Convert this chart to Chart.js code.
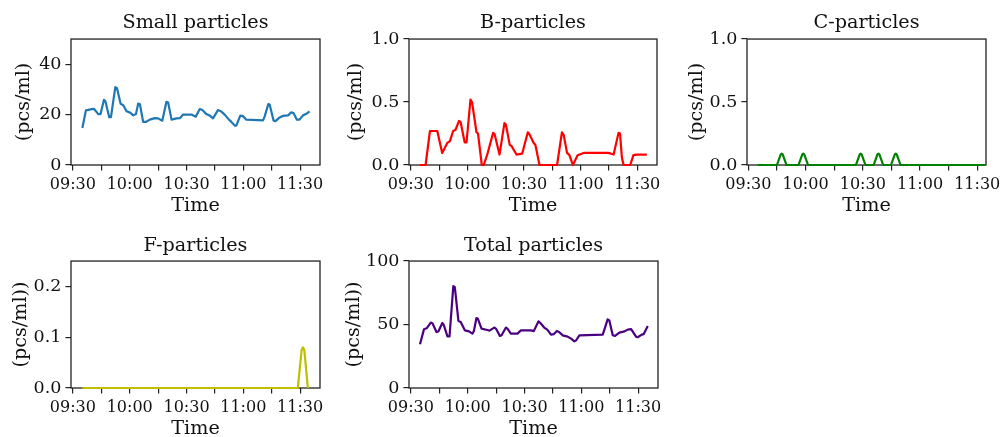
<!DOCTYPE html>
<html>
<head>
<meta charset="utf-8">
<script src="https://cdn.jsdelivr.net/npm/chart.js@4.4.1/dist/chart.umd.min.js"></script>
<style>
  html, body { margin: 0; padding: 0; background: #fff; width: 1001px; height: 437px; overflow: hidden; position: relative; }
  canvas { position: absolute; }
</style>
</head>
<body>
<canvas id="small"></canvas>
<canvas id="bpart"></canvas>
<canvas id="cpart"></canvas>
<canvas id="fpart"></canvas>
<canvas id="total"></canvas>
<script>
// time = minutes after 09:00
const tickLabels = ['09:30', '10:00', '10:30', '11:00', '11:30'];

const smallMin = [35.0, 36.9, 39.9, 41.1, 43.4, 44.6, 46.4, 47.2, 49.2, 50.1, 52.4, 53.3, 55.2, 56.6, 58.4, 60.2,
  61.9, 63.3, 64.5, 65.4, 67.1, 68.5, 70.6, 73.3, 75.0, 77.2, 79.4, 80.3, 82.1, 84.7, 86.5, 88.2, 92.6, 94.9,
  97.0, 98.4, 100.5, 102.3, 104.0, 106.6, 108.4, 110.2, 112.4, 113.6, 115.6, 116.3, 118.4, 119.8, 121.6, 130.4,
  131.3, 133.2, 133.9, 136.0, 137.0, 139.2, 141.0, 143.6, 145.3, 146.5, 148.3, 149.7, 151.5, 153.3, 155.0];
const smallVal = [14.7, 21.7, 22.2, 22.3, 20.2, 20.2, 25.9, 25.2, 19.0, 19.0, 30.9, 30.5, 24.3, 23.7, 21.3, 20.8,
  19.7, 20.2, 24.4, 24.1, 17.1, 17.1, 18.0, 18.6, 18.5, 17.6, 25.1, 24.8, 18.0, 18.5, 18.6, 20.0, 20.0, 19.2,
  22.2, 21.8, 20.2, 19.6, 18.5, 21.8, 21.2, 20.0, 18.0, 17.2, 15.6, 15.6, 19.6, 19.4, 18.0, 17.7,
  19.3, 24.2, 24.0, 17.6, 17.4, 18.9, 19.5, 19.7, 20.9, 20.6, 18.0, 18.0, 19.7, 20.3, 21.3];

const bMin = [34.8, 37.8, 40.1, 44.0, 46.6, 49.3, 50.7, 52.4, 53.7, 55.5, 56.4, 58.5, 59.5, 61.6, 62.4, 64.8, 65.6,
  67.6, 68.6, 70.4, 73.6, 74.4, 77.0, 79.6, 80.4, 82.4, 83.4, 86.0, 89.0, 92.0, 93.0, 95.1, 96.0, 98.2, 107.5,
  110.1, 111.0, 112.8, 114.0, 115.9, 118.4, 121.6, 134.8, 137.5, 140.1, 140.9, 141.9, 142.8, 146.3, 148.0, 149.8, 155.1];
const bVal = [0, 0, 0.27, 0.27, 0.096, 0.175, 0.19, 0.27, 0.28, 0.35, 0.34, 0.18, 0.18, 0.52, 0.50, 0.26, 0.25,
  0, 0, 0.078, 0.255, 0.245, 0.083, 0.333, 0.32, 0.16, 0.15, 0.083, 0.09, 0.26, 0.24, 0.175, 0.16, 0, 0,
  0.26, 0.24, 0.096, 0.08, 0, 0.078, 0.096, 0.096, 0.083, 0.255, 0.25, 0.057, 0, 0, 0.078, 0.083, 0.083];

const cMin = [34.9, 45.0, 47.0, 47.5, 48.0, 50.0, 56.3, 58.3, 58.8, 59.3, 61.3, 86.4, 88.4, 88.9, 89.4, 91.4,
  95.7, 97.7, 98.2, 98.7, 100.7, 104.8, 106.8, 107.3, 107.8, 109.8, 154.0];
const cVal = [0, 0, 0.085, 0.09, 0.085, 0, 0, 0.085, 0.09, 0.085, 0, 0, 0.085, 0.09, 0.085, 0,
  0, 0.085, 0.09, 0.085, 0, 0, 0.085, 0.09, 0.085, 0, 0];

const fMin = [35.0, 148.8, 150.8, 151.5, 152.2, 154.1];
const fVal = [0, 0, 0.075, 0.08, 0.075, 0];

const totalMin = [34.8, 36.9, 38.3, 40.5, 41.4, 43.5, 44.5, 46.6, 47.4, 49.3, 50.4, 52.4, 53.2, 55.1, 56.3, 58.5,
  60.7, 62.5, 63.3, 64.6, 65.4, 67.3, 70.4, 71.5, 74.0, 74.9, 77.0, 77.9, 80.2, 81.0, 82.8, 86.3, 88.1, 93.4,
  94.9, 97.4, 98.5, 100.4, 102.0, 104.0, 105.4, 107.1, 108.3, 110.1, 112.8, 114.6, 116.3, 117.2, 119.0, 131.3,
  132.4, 133.9, 134.8, 136.6, 137.8, 140.1, 142.8, 144.5, 146.3, 149.0, 149.8, 151.9, 152.9, 155.1];
const totalVal = [34.4, 46.2, 47.0, 51.5, 51.0, 44.1, 44.5, 51.2, 49.5, 40.7, 40.7, 80.3, 79.5, 52.8, 52.0, 45.4,
  44.6, 42.8, 45.0, 55.1, 54.5, 46.8, 45.7, 45.2, 47.6, 46.8, 41.0, 41.6, 47.6, 46.8, 42.8, 42.8, 45.4, 45.4,
  44.8, 52.5, 51.0, 47.6, 46.0, 42.0, 42.4, 44.9, 44.0, 41.5, 40.5, 38.9, 36.8, 37.4, 41.5, 42.0,
  47.0, 54.1, 53.2, 41.5, 41.0, 43.6, 44.6, 46.0, 46.4, 40.2, 40.0, 42.0, 42.4, 48.8];

const FONT = "'DejaVu Serif', serif";

// full axes box like matplotlib spines
const frame = {
  id: 'frame',
  beforeDatasetsDraw(chart) {
    const { ctx, chartArea: a } = chart;
    ctx.save();
    ctx.strokeStyle = '#222';
    ctx.lineWidth = 1.3;
    ctx.strokeRect(a.left, a.top, a.right - a.left, a.bottom - a.top);
    ctx.restore();
  }
};

function toPoints(xs, ys) {
  return xs.map((x, i) => ({ x: x, y: ys[i] }));
}

function fmtTime(v) {
  const i = tickLabels.findIndex(t => {
    const p = t.split(':');
    return (+p[0] - 9) * 60 + (+p[1]) === v;
  });
  return i >= 0 ? tickLabels[i] : '';
}

function panel(id, o) {
  const el = document.getElementById(id);
  const yW = 70, xH = 55, padR = 30;
  const left = o.l - yW;
  el.width = o.r - left + padR;
  el.height = 209;
  el.style.left = left + 'px';
  el.style.top = o.top + 'px';

  new Chart(el, {
    type: 'line',
    data: {
      datasets: [{
        data: toPoints(o.xs, o.ys),
        borderColor: o.color,
        borderWidth: 2.2,
        pointRadius: 0,
        tension: 0,
        fill: false,
        clip: 3,
        borderJoinStyle: 'round'
      }]
    },
    plugins: [frame],
    options: {
      responsive: false,
      animation: false,
      events: [],
      layout: { padding: { left: 0, top: 0, right: padR, bottom: 0 } },
      plugins: {
        legend: { display: false },
        tooltip: { enabled: false },
        title: {
          display: true,
          text: o.title,
          fullSize: false,
          color: '#111',
          font: { family: FONT, size: 19.2, weight: 'normal', lineHeight: 1.2 },
          padding: { top: 0, bottom: o.titlePad }
        }
      },
      scales: {
        x: {
          type: 'linear',
          min: o.xmin,
          max: o.xmax,
          afterFit(s) { s.height = xH; s.paddingLeft = 0; s.paddingRight = 0; },
          border: { display: false },
          grid: { drawOnChartArea: false, drawTicks: true, tickLength: 5.6, color: '#222', lineWidth: 1.2 },
          ticks: {
            stepSize: 15,
            includeBounds: false,
            autoSkip: false,
            maxRotation: 0,
            minRotation: 0,
            padding: 4.5,
            color: '#111',
            font: { family: FONT, size: 16 },
            callback: v => fmtTime(v)
          },
          title: {
            display: true,
            text: 'Time',
            color: '#111',
            font: { family: FONT, size: 19.2, lineHeight: 1.2 },
            padding: { top: 0, bottom: 2 }
          }
        },
        y: {
          min: o.ymin,
          max: o.ymax,
          afterFit(s) { s.width = yW; s.paddingTop = 0; s.paddingBottom = 0; },
          border: { display: false },
          grid: { drawOnChartArea: false, drawTicks: true, tickLength: 5.6, color: '#222', lineWidth: 1.2 },
          ticks: {
            stepSize: o.ystep,
            includeBounds: false,
            padding: 4,
            color: '#111',
            font: { family: FONT, size: 17.5 },
            callback: v => o.digits ? v.toFixed(o.digits) : String(v)
          },
          title: {
            display: true,
            text: o.ylabel,
            color: '#111',
            font: { family: FONT, size: 19.2, lineHeight: 1.2 },
            padding: { top: o.ylabPad, bottom: 0 }
          }
        }
      }
    }
  });
}

panel('small', { title: 'Small particles', xs: smallMin, ys: smallVal, color: '#1f77b4',
  l: 71, r: 320, top: 11, titlePad: 5, xmin: 29.0, xmax: 160.5, ymin: 0, ymax: 50, ystep: 20, digits: 0,
  ylabel: '(pcs/ml)', ylabPad: 11 });
panel('bpart', { title: 'B-particles', xs: bMin, ys: bVal, color: '#ff0000',
  l: 409, r: 657, top: 11, titlePad: 5, xmin: 29.0, xmax: 160.5, ymin: 0, ymax: 1, ystep: 0.5, digits: 1,
  ylabel: '(pcs/ml)', ylabPad: 5.5 });
panel('cpart', { title: 'C-particles', xs: cMin, ys: cVal, color: '#008000',
  l: 747, r: 986, top: 11, titlePad: 5, xmin: 29.3, xmax: 154.6, ymin: 0, ymax: 1, ystep: 0.5, digits: 1,
  ylabel: '(pcs/ml)', ylabPad: 8.5 });
panel('fpart', { title: 'F-particles', xs: fMin, ys: fVal, color: '#bfbf00',
  l: 71, r: 320, top: 234, titlePad: 4, xmin: 29.0, xmax: 160.5, ymin: 0, ymax: 0.25, ystep: 0.1, digits: 1,
  ylabel: '(pcs/ml))', ylabPad: 8.5 });
panel('total', { title: 'Total particles', xs: totalMin, ys: totalVal, color: '#4b0082',
  l: 409, r: 658, top: 234, titlePad: 4, xmin: 29.0, xmax: 160.5, ymin: 0, ymax: 100, ystep: 50, digits: 0,
  ylabel: '(pcs/ml))', ylabPad: 3 });
</script>
</body>
</html>
